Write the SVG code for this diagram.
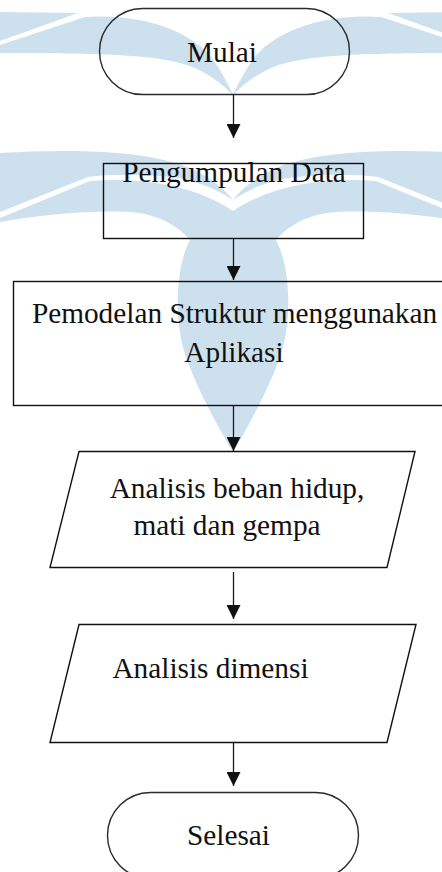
<svg xmlns="http://www.w3.org/2000/svg" width="442" height="872" viewBox="0 0 442 872">
<style>
.wm{fill:#cde0ee;stroke:none}
.shape{fill:none;stroke:#111;stroke-width:1.4}
.term{fill:none;stroke:#2a2a2a;stroke-width:1.4}
.lbl{font-family:"Liberation Serif","Times New Roman",serif;font-size:29.3px;fill:#111;text-anchor:middle}
.conn{stroke:#1a1a1a;stroke-width:1.3;fill:none;marker-end:url(#ah)}
</style>
<defs>
<marker id="ah" markerWidth="14" markerHeight="14" refX="14" refY="7" orient="auto" markerUnits="userSpaceOnUse">
<path d="M0,0 L14,7 L0,14 Z" fill="#111"/>
</marker>
<g id="wmhalf">
<path class="wm" d="M0,12 L78,13 L0,41 Z"/>
<path class="wm" d="M0,45 L85,17 C140,13 190,30 212,58 C222,72 229,86 234,97 C222,82 205,72 190,66 C160,56 120,53 0,53 Z"/>
<path class="wm" d="M0,153 C70,149 140,150 185,166 C205,174 222,186 233,200 C215,188 195,180 170,177 C140,174 110,174 88,177 L0,212 Z"/>
<path class="wm" d="M0,218 L90,181 C140,177 195,185 233,211 L233,452 C220,430 200,395 187,360 C178,335 176,305 179,280 C181,262 185,250 190,240 C180,228 160,214 130,212 C90,210 40,215 0,222 Z"/>
</g>
</defs>
<g id="watermark">
<use href="#wmhalf"/>
<use href="#wmhalf" transform="translate(466,0) scale(-1,1)"/>
</g>
<g id="connectors">
<line class="conn" x1="233.5" y1="95" x2="233.5" y2="138"/>
<line class="conn" x1="233.5" y1="238" x2="233.5" y2="280"/>
<line class="conn" x1="233.5" y1="405" x2="233.5" y2="451"/>
<line class="conn" x1="233.5" y1="572" x2="233.5" y2="619"/>
<line class="conn" x1="233.5" y1="742" x2="233.5" y2="786"/>
</g>
<g id="mulai">
<rect class="term" x="99.5" y="8.5" width="250" height="86" rx="43" ry="43"/>
<text class="lbl" x="222" y="62">Mulai</text>
</g>
<g id="pengumpulan">
<rect class="shape" x="103.5" y="163.5" width="260" height="75"/>
<text class="lbl" x="234" y="181.5">Pengumpulan Data</text>
</g>
<g id="pemodelan">
<rect class="shape" x="13.5" y="281.5" width="440" height="124"/>
<text class="lbl" x="234.5" y="323.3">Pemodelan Struktur menggunakan</text>
<text class="lbl" x="234" y="361.7">Aplikasi</text>
</g>
<g id="analisis-beban">
<polygon class="shape" points="79,451.5 415,451.5 387,567.5 50,567.5"/>
<text class="lbl" x="237" y="498.3">Analisis beban hidup,</text>
<text class="lbl" x="227" y="535">mati dan gempa</text>
</g>
<g id="analisis-dimensi">
<polygon class="shape" points="79,624.5 416,624.5 387,742.5 50,742.5"/>
<text class="lbl" x="210.5" y="678">Analisis dimensi</text>
</g>
<g id="selesai">
<rect class="term" x="107.5" y="792.5" width="251" height="86" rx="43" ry="43"/>
<text class="lbl" x="228.5" y="845">Selesai</text>
</g>
</svg>
